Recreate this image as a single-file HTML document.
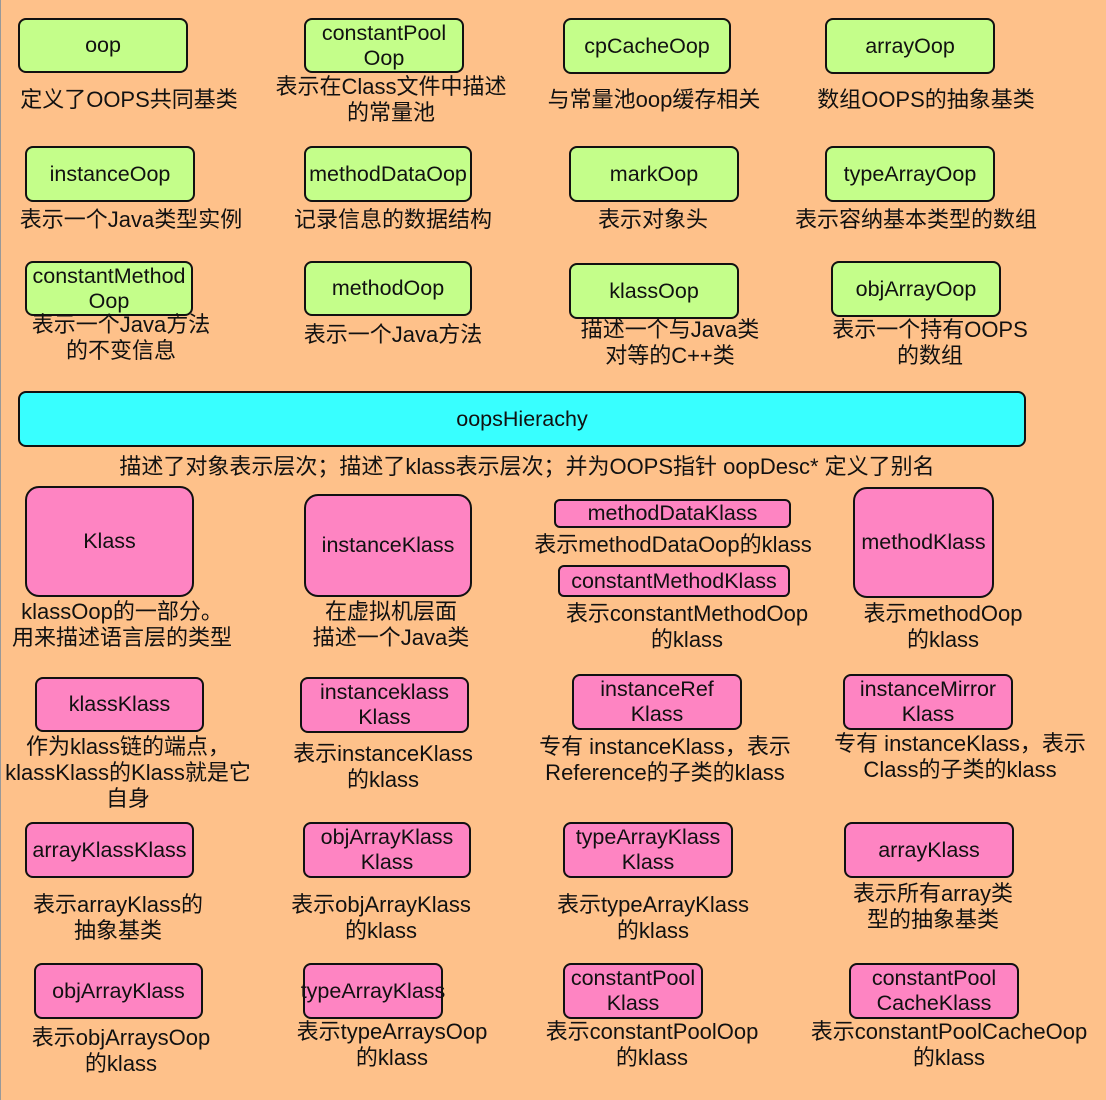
<!DOCTYPE html>
<html><head><meta charset="utf-8"><style>
html,body{margin:0;padding:0}
body{width:1106px;height:1100px;background:#FEC18A;position:relative;overflow:hidden;font-family:"Liberation Sans","Noto Sans CJK SC",sans-serif;color:#111;border-left:1px solid #999;box-sizing:border-box}
.b{position:absolute;box-sizing:border-box;border:2px solid #111;border-radius:8px;display:flex;align-items:center;justify-content:center;text-align:center;font-size:21.5px;line-height:25px;white-space:nowrap}
.g{background:#C4FE8A}.p{background:#FE84C2}.c{background:#38FFFF}
.l{position:absolute;transform:translateX(-50%);text-align:center;font-size:22px;line-height:26px;white-space:nowrap}
</style></head><body>
<div class="b g" style="left:17px;top:18px;width:170px;height:55px">oop</div>
<div class="b g" style="left:303px;top:18px;width:160px;height:55px">constantPool<br>Oop</div>
<div class="b g" style="left:562px;top:18px;width:168px;height:56px">cpCacheOop</div>
<div class="b g" style="left:824px;top:18px;width:170px;height:56px">arrayOop</div>
<div class="l" style="left:128px;top:87px">定义了OOPS共同基类</div>
<div class="l" style="left:390px;top:74px">表示在Class文件中描述<br>的常量池</div>
<div class="l" style="left:653px;top:87px">与常量池oop缓存相关</div>
<div class="l" style="left:925px;top:87px">数组OOPS的抽象基类</div>

<div class="b g" style="left:24px;top:146px;width:170px;height:56px">instanceOop</div>
<div class="b g" style="left:303px;top:146px;width:168px;height:56px">methodDataOop</div>
<div class="b g" style="left:568px;top:146px;width:170px;height:56px">markOop</div>
<div class="b g" style="left:824px;top:146px;width:170px;height:56px">typeArrayOop</div>
<div class="l" style="left:130px;top:207px">表示一个Java类型实例</div>
<div class="l" style="left:392px;top:207px">记录信息的数据结构</div>
<div class="l" style="left:652px;top:207px">表示对象头</div>
<div class="l" style="left:915px;top:207px">表示容纳基本类型的数组</div>

<div class="b g" style="left:24px;top:261px;width:168px;height:55px">constantMethod<br>Oop</div>
<div class="b g" style="left:303px;top:261px;width:168px;height:55px">methodOop</div>
<div class="b g" style="left:568px;top:263px;width:170px;height:56px">klassOop</div>
<div class="b g" style="left:830px;top:261px;width:170px;height:56px">objArrayOop</div>
<div class="l" style="left:120px;top:312px">表示一个Java方法<br>的不变信息</div>
<div class="l" style="left:392px;top:322px">表示一个Java方法</div>
<div class="l" style="left:669px;top:317px">描述一个与Java类<br>对等的C++类</div>
<div class="l" style="left:929px;top:317px">表示一个持有OOPS<br>的数组</div>

<div class="b c" style="left:17px;top:391px;width:1008px;height:56px">oopsHierachy</div>
<div class="l" style="left:526px;top:454px">描述了对象表示层次；描述了klass表示层次；并为OOPS指针 oopDesc* 定义了别名</div>

<div class="b p" style="left:24px;top:486px;width:169px;height:111px;border-radius:14px">Klass</div>
<div class="b p" style="left:303px;top:494px;width:168px;height:103px;border-radius:14px">instanceKlass</div>
<div class="b p" style="left:553px;top:499px;width:237px;height:29px;border-radius:6px">methodDataKlass</div>
<div class="b p" style="left:557px;top:565px;width:232px;height:32px;border-radius:6px">constantMethodKlass</div>
<div class="b p" style="left:852px;top:487px;width:141px;height:111px;border-radius:14px">methodKlass</div>
<div class="l" style="left:121px;top:599px">klassOop的一部分。<br>用来描述语言层的类型</div>
<div class="l" style="left:390px;top:599px">在虚拟机层面<br>描述一个Java类</div>
<div class="l" style="left:672px;top:532px">表示methodDataOop的klass</div>
<div class="l" style="left:686px;top:601px">表示constantMethodOop<br>的klass</div>
<div class="l" style="left:942px;top:601px">表示methodOop<br>的klass</div>

<div class="b p" style="left:34px;top:677px;width:169px;height:55px">klassKlass</div>
<div class="b p" style="left:299px;top:677px;width:169px;height:56px">instanceklass<br>Klass</div>
<div class="b p" style="left:571px;top:674px;width:170px;height:56px">instanceRef<br>Klass</div>
<div class="b p" style="left:842px;top:674px;width:170px;height:56px">instanceMirror<br>Klass</div>
<div class="l" style="left:127px;top:734px">作为klass链的端点，<br>klassKlass的Klass就是它<br>自身</div>
<div class="l" style="left:382px;top:741px">表示instanceKlass<br>的klass</div>
<div class="l" style="left:664px;top:734px">专有 instanceKlass，表示<br>Reference的子类的klass</div>
<div class="l" style="left:959px;top:731px">专有 instanceKlass，表示<br>Class的子类的klass</div>

<div class="b p" style="left:24px;top:822px;width:169px;height:56px">arrayKlassKlass</div>
<div class="b p" style="left:302px;top:822px;width:168px;height:56px">objArrayKlass<br>Klass</div>
<div class="b p" style="left:562px;top:822px;width:170px;height:56px">typeArrayKlass<br>Klass</div>
<div class="b p" style="left:843px;top:822px;width:170px;height:56px">arrayKlass</div>
<div class="l" style="left:117px;top:892px">表示arrayKlass的<br>抽象基类</div>
<div class="l" style="left:380px;top:892px">表示objArrayKlass<br>的klass</div>
<div class="l" style="left:652px;top:892px">表示typeArrayKlass<br>的klass</div>
<div class="l" style="left:932px;top:881px">表示所有array类<br>型的抽象基类</div>

<div class="b p" style="left:33px;top:963px;width:169px;height:56px">objArrayKlass</div>
<div class="b p" style="left:302px;top:963px;width:140px;height:56px">typeArrayKlass</div>
<div class="b p" style="left:562px;top:963px;width:140px;height:56px">constantPool<br>Klass</div>
<div class="b p" style="left:848px;top:963px;width:170px;height:56px">constantPool<br>CacheKlass</div>
<div class="l" style="left:120px;top:1025px">表示objArraysOop<br>的klass</div>
<div class="l" style="left:391px;top:1019px">表示typeArraysOop<br>的klass</div>
<div class="l" style="left:651px;top:1019px">表示constantPoolOop<br>的klass</div>
<div class="l" style="left:948px;top:1019px">表示constantPoolCacheOop<br>的klass</div>
</body></html>
